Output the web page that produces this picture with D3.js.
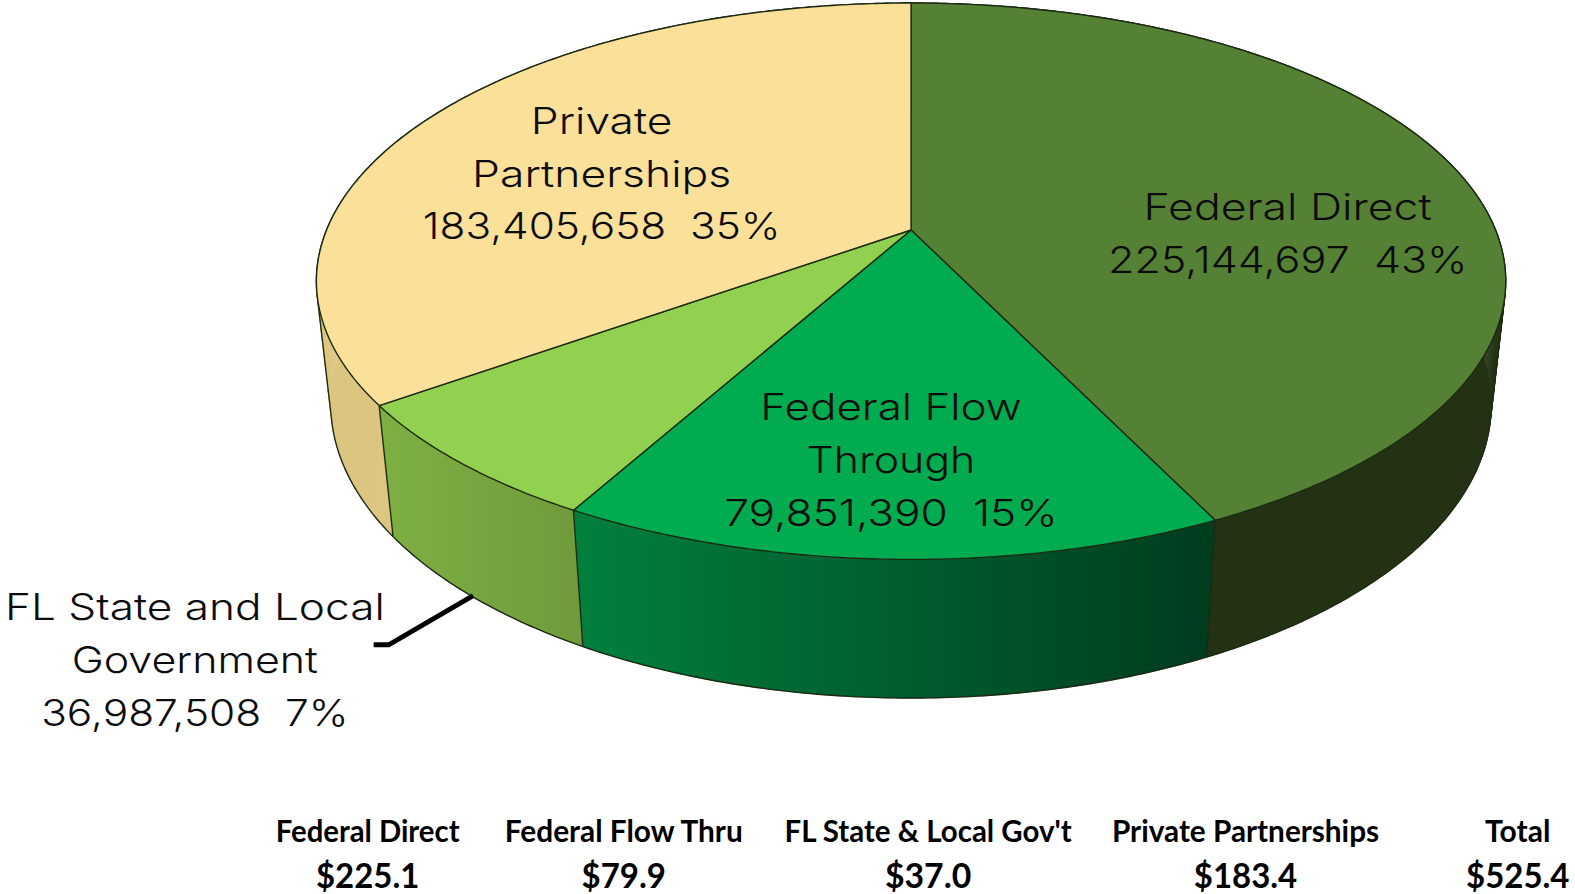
<!DOCTYPE html>
<html>
<head>
<meta charset="utf-8">
<script src="https://cdn.jsdelivr.net/npm/d3@7/dist/d3.min.js"></script>
<style>
  html, body { margin: 0; padding: 0; background: #fff; }
  svg { display: block; }
</style>
</head>
<body>
<div id="chart"></div>
<script>
// slices, clockwise from 12 o'clock
var sliceNames = ["Federal Direct", "Federal Flow Through", "FL State and Local Government", "Private Partnerships"];
var sliceValues = [225144697, 79851390, 36987508, 183405658];
var slicePercents = ["43%", "15%", "7%", "35%"];

// table under the pie
var tableHeads = ["Federal Direct", "Federal Flow Thru", "FL State & Local Gov't", "Private Partnerships", "Total"];
var tableValues = ["$225.1", "$79.9", "$37.0", "$183.4", "$525.4"];

var topColors = ["#558135", "#00ac4f", "#92d050", "#fbe09a"];
var wallFrom = ["#243214", "#007f3d", "#7dae42", "#dcc57f"];
var wallTo = ["#243214", "#003d1f", "#709a3b", "#e6cd84"];

var width = 1575, height = 894;
var S = 1575 / 1568; // I read the layout off the shrunk picture

var svg = d3.select("#chart")
  .append("svg")
    .attr("width", width)
    .attr("height", height);

// perspective of the disc: u is right, v is towards the viewer
var apex = {x: 907 * S, y: 229 * S};
var a = 581.9 * S, b = 267.6 * S, k = 0.184;
var depthW = 0.024, depthY = 123.8 * S;

function project(angle, drop) {
  var u = Math.sin(angle), v = -Math.cos(angle);
  var w = 1 - k * v + (drop ? depthW : 0);
  return [apex.x + a * u / w, apex.y + (b * v + (drop ? depthY : 0)) / w];
}

function arcPoints(start, end, drop) {
  var n = Math.max(2, Math.ceil((end - start) / 0.01));
  return d3.range(n + 1).map(function(i) {
    return project(start + (end - start) * i / n, drop);
  });
}

var pie = d3.pie().sort(null)(sliceValues);
var line = d3.line();
var edge = "#1c2a14";

// wall gradients
var defs = svg.append("defs");
pie.forEach(function(d, i) {
  var xs = arcPoints(d.startAngle, d.endAngle, true).map(function(p) { return p[0]; });
  var g = defs.append("linearGradient")
    .attr("id", "wall" + i)
    .attr("gradientUnits", "userSpaceOnUse")
    .attr("x1", d3.min(xs)).attr("y1", 0)
    .attr("x2", d3.max(xs)).attr("y2", 0);
  g.append("stop").attr("offset", 0).attr("stop-color", wallFrom[i]);
  g.append("stop").attr("offset", 1).attr("stop-color", wallTo[i]);
});

// walls are many small quads so the fold at the left and right edge gets filled
svg.selectAll(".wall")
  .data(pie)
  .enter()
  .append("path")
    .attr("class", "wall")
    .attr("d", function(d) {
      var up = arcPoints(d.startAngle, d.endAngle, false);
      var down = arcPoints(d.startAngle, d.endAngle, true);
      return d3.range(up.length - 1).map(function(j) {
        return line([up[j], up[j + 1], down[j + 1], down[j]]) + "Z";
      }).join("");
    })
    .attr("fill", function(d, i) { return "url(#wall" + i + ")"; })
    .attr("stroke", function(d, i) { return "url(#wall" + i + ")"; })
    .attr("stroke-width", 0.6);

// dividers between the walls
svg.selectAll(".divider")
  .data(pie)
  .enter()
  .append("path")
    .attr("class", "divider")
    .attr("d", function(d) {
      return line([project(d.startAngle, false), project(d.startAngle, true)]);
    })
    .attr("stroke", edge)
    .attr("stroke-width", 1.4);

// outline of the whole drum
var hull = d3.polygonHull(arcPoints(0, 2 * Math.PI, false).concat(arcPoints(0, 2 * Math.PI, true)));
svg.append("path")
  .attr("d", line(hull) + "Z")
  .attr("fill", "none")
  .attr("stroke", edge)
  .attr("stroke-width", 1.4);

// top of each slice
svg.selectAll(".top")
  .data(pie)
  .enter()
  .append("path")
    .attr("class", "top")
    .attr("d", function(d) {
      return line([[apex.x, apex.y]].concat(arcPoints(d.startAngle, d.endAngle, false))) + "Z";
    })
    .attr("fill", function(d, i) { return topColors[i]; })
    .attr("stroke", edge)
    .attr("stroke-width", 1.4)
    .attr("stroke-linejoin", "round");

// leader for the small slice
svg.append("path")
  .attr("d", line([[372, 642], [387, 642], [471, 593]].map(function(p) { return [p[0] * S, p[1] * S]; })))
  .attr("fill", "none")
  .attr("stroke", "#000")
  .attr("stroke-width", 5);

// labels: centre x, first baseline, wrapped lines, width of the number line
var fmt = d3.format(",");
var labelLines = [
  ["Federal Direct"],
  ["Federal Flow", "Through"],
  ["FL State and Local", "Government"],
  ["Private", "Partnerships"]
];
var labelX = [1282, 887, 194, 599];
var labelY = [219.5, 418, 617, 133];
var lineWidths = [
  [287],
  [260, 168],
  [378, 245],
  [141, 258]
];
var numberWidths = [358, 332, 306, 356];

pie.forEach(function(d, i) {
  var lines = labelLines[i].concat([fmt(sliceValues[i]) + "\u00a0\u00a0" + slicePercents[i]]);
  var widths = lineWidths[i].concat([numberWidths[i]]);
  lines.forEach(function(t, j) {
    svg.append("text")
      .attr("x", labelX[i] * S)
      .attr("y", (labelY[i] + j * 52.7) * S)
      .attr("text-anchor", "middle")
      .attr("font-family", "Inter, 'Liberation Sans', sans-serif")
      .attr("font-weight", 300)
      .attr("font-size", 37)
      .attr("fill", "#0c0c0c")
      .attr("textLength", widths[j] * S)
      .attr("lengthAdjust", "spacingAndGlyphs")
      .text(t);
  });
});

// table
var tableX = [366, 621, 924, 1240, 1511];
var headWidths = [183, 237, 286, 266, 65];
var valueWidths = [103, 84, 86, 103, 103];

tableHeads.forEach(function(t, i) {
  svg.append("text")
    .attr("x", tableX[i] * S)
    .attr("y", 838 * S)
    .attr("text-anchor", "middle")
    .attr("font-family", "Lato, sans-serif")
    .attr("font-weight", 700)
    .attr("font-size", 31)
    .attr("fill", "#000")
    .attr("textLength", headWidths[i] * S)
    .attr("lengthAdjust", "spacingAndGlyphs")
    .text(t);
  svg.append("text")
    .attr("x", tableX[i] * S)
    .attr("y", 884 * S)
    .attr("text-anchor", "middle")
    .attr("font-family", "Lato, sans-serif")
    .attr("font-weight", 700)
    .attr("font-size", 34)
    .attr("fill", "#000")
    .attr("textLength", valueWidths[i] * S)
    .attr("lengthAdjust", "spacingAndGlyphs")
    .text(tableValues[i]);
});
</script>
</body>
</html>
